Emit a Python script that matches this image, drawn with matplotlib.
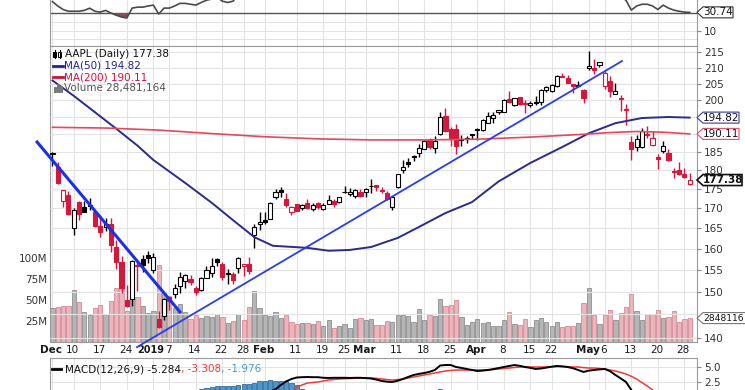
import numpy as np
import matplotlib
matplotlib.use('Agg')
import matplotlib.pyplot as plt
from matplotlib.patches import Polygon, Rectangle
from matplotlib.lines import Line2D
from matplotlib.transforms import IdentityTransform, blended_transform_factory
from matplotlib.ticker import NullLocator

plt.rcParams['font.family'] = ['DejaVu Sans']

# trading days on the chart, Dec 3 2018 .. May 29 2019
months = ['Dec', 'Jan', 'Feb', 'Mar', 'Apr', 'May']
month_days = [
    [3, 4, 6, 7, 10, 11, 12, 13, 14, 17, 18, 19, 20, 21, 24, 26, 27, 28, 31],
    [2, 3, 4, 7, 8, 9, 10, 11, 14, 15, 16, 17, 18, 22, 23, 24, 25, 28, 29, 30, 31],
    [1, 4, 5, 6, 7, 8, 11, 12, 13, 14, 15, 19, 20, 21, 22, 25, 26, 27, 28],
    [1, 4, 5, 6, 7, 8, 11, 12, 13, 14, 15, 18, 19, 20, 21, 22, 25, 26, 27, 28, 29],
    [1, 2, 3, 4, 5, 8, 9, 10, 11, 12, 15, 16, 17, 18, 22, 23, 24, 25, 26, 29, 30],
    [1, 2, 3, 6, 7, 8, 9, 10, 13, 14, 15, 16, 17, 20, 21, 22, 23, 24, 28, 29],
]
dates = [(m, d) for m, days in zip(months, month_days) for d in days]

prev_close = 178.58
opens = [184.46,180.95,171.76,173.49,165.00,171.66,170.40,170.49,169.00,165.45,165.38,166.00,160.40,156.86,148.15,148.30,155.84,157.50,158.53,
         154.89,143.98,144.53,148.70,149.56,151.29,152.50,152.88,150.85,150.27,153.08,154.20,157.50,156.41,154.15,154.11,155.48,155.79,156.25,163.25,166.11,
         166.96,167.41,172.86,174.65,172.40,168.99,171.05,170.10,171.39,169.71,171.25,169.71,171.19,171.80,171.58,174.16,173.71,173.21,174.32,
         174.28,175.69,175.94,174.67,173.87,170.32,175.49,180.00,182.25,183.90,184.85,185.80,188.35,186.23,190.02,195.34,191.51,191.66,188.75,188.95,189.83,
         191.64,191.09,193.25,194.79,196.45,196.42,200.32,198.68,200.85,199.20,198.58,199.46,199.54,203.12,202.83,204.43,207.36,206.83,204.90,204.40,203.06,
         209.88,209.84,210.89,204.29,205.88,201.90,200.40,197.42,187.71,186.41,186.27,189.91,186.93,183.52,185.22,184.66,179.80,180.20,178.92,176.42]
highs = [184.94,182.39,174.78,174.49,170.09,171.79,171.92,172.57,169.08,168.35,167.53,167.45,162.11,158.16,151.55,157.23,156.77,158.52,159.36,
         158.85,145.72,148.55,148.83,151.82,154.53,153.97,153.70,151.27,153.39,155.88,157.66,157.88,156.73,155.14,154.48,158.13,156.33,158.13,166.15,169.00,
         168.98,171.66,175.08,175.57,173.94,170.66,171.21,171.00,172.48,171.26,171.70,171.44,173.32,172.37,173.00,175.87,175.30,175.00,174.91,
         175.15,177.75,176.00,175.49,174.44,173.07,179.12,182.67,183.30,184.10,187.33,188.39,188.99,189.49,196.33,197.69,191.98,192.88,189.76,189.56,190.08,
         191.68,194.46,196.50,196.37,197.10,200.23,202.85,200.74,201.00,200.14,199.85,201.37,203.38,204.15,204.94,207.75,208.48,207.76,205.00,205.97,203.40,
         215.31,212.65,211.84,208.84,207.42,205.34,201.68,198.85,189.48,189.70,191.75,192.47,190.90,184.35,188.00,185.71,180.54,182.14,180.59,179.35]
lows = [181.21,176.27,170.42,168.30,163.33,167.00,169.02,169.55,165.28,162.73,164.39,159.09,155.30,149.63,146.59,146.72,150.07,154.55,156.48,
        154.23,142.00,143.80,145.90,148.52,149.63,150.86,151.51,149.22,150.05,153.00,153.26,155.98,152.62,151.70,151.74,154.32,153.66,154.11,160.23,164.56,
        165.93,167.28,172.35,172.85,170.34,168.42,169.25,169.70,169.92,169.38,169.75,169.49,170.99,170.30,171.38,173.95,173.17,172.73,172.92,
        172.89,173.97,174.54,173.94,172.02,169.50,175.35,179.37,180.92,182.56,183.74,185.79,185.92,184.73,189.81,190.78,186.60,184.58,186.55,187.53,188.54,
        188.38,191.05,193.15,193.14,195.93,196.34,199.23,198.18,198.44,196.21,198.01,198.56,198.61,202.52,202.34,203.90,207.05,205.12,202.12,203.86,199.11,
        209.23,208.13,210.23,203.50,200.83,201.75,196.66,192.77,182.85,185.41,186.02,188.84,186.76,180.28,184.70,182.55,177.81,178.62,177.91,176.00]
closes = [184.82,176.69,174.72,168.49,169.60,168.63,169.10,170.95,165.48,163.94,166.07,160.89,156.83,150.73,146.83,157.17,156.15,156.23,157.74,
          157.92,142.19,148.26,147.93,150.75,153.31,153.80,152.29,150.00,153.07,154.94,155.86,156.82,153.30,153.92,152.70,157.76,156.30,154.68,165.25,166.44,
          166.52,171.25,174.18,174.24,170.94,170.41,169.43,170.89,170.18,170.80,170.42,170.93,172.03,171.06,172.97,174.23,174.33,174.87,173.15,
          174.97,175.85,175.53,174.52,172.50,172.91,178.90,180.91,181.71,183.73,186.12,188.02,186.53,188.16,195.09,191.05,188.74,186.79,188.47,188.72,189.95,
          191.24,194.02,195.35,195.69,197.00,200.10,199.50,200.62,198.95,198.87,199.23,199.25,203.13,203.86,204.53,207.48,207.16,205.28,204.30,204.61,200.67,
          210.52,209.15,211.75,208.48,202.86,202.90,200.72,197.18,185.72,188.66,190.92,190.08,189.00,183.09,186.60,182.78,179.66,178.97,178.23,177.38]
volume_m = [40.8,41.3,43.1,42.3,62.0,47.3,35.6,31.9,40.7,44.3,33.8,49.0,64.8,95.7,37.2,58.6,53.1,42.3,35.0,
            37.0,91.3,58.6,54.8,41.0,45.1,35.8,27.0,32.4,28.7,30.6,29.8,33.1,29.9,23.1,25.4,33.5,26.2,41.6,61.1,40.7,
            32.7,31.5,36.1,28.2,31.7,23.8,20.9,22.3,22.5,21.8,24.6,18.9,26.1,17.2,18.9,21.9,17.1,27.8,28.2,
            25.9,27.4,19.7,20.8,24.8,23.9,32.0,32.5,31.0,23.6,39.0,26.2,31.6,31.0,51.0,42.4,43.8,49.8,29.8,20.8,23.6,
            27.9,22.8,23.3,19.1,18.5,25.9,35.8,21.7,20.6,27.2,17.6,25.7,28.9,24.2,19.4,23.3,17.5,18.5,18.6,22.2,46.5,
            64.8,31.9,20.9,32.4,38.0,26.3,34.9,41.2,57.4,36.5,26.5,33.0,32.9,38.6,28.4,29.7,36.5,23.7,27.9,28.481164]

# moving averages (day index, value)
ma50_idx = [0, 4, 8, 12, 16, 19, 25, 30, 34, 38, 41.5, 48, 52, 56, 60, 65, 69, 74, 79, 84, 90, 96, 101, 106, 111, 116, 120]
ma50_val = [206.0, 201.3, 196.4, 191.6, 186.8, 182.8, 176.6, 171.4, 167.0, 162.8, 160.7, 160.2, 159.5, 159.7, 160.4,
            162.6, 165.3, 168.8, 171.6, 177.0, 182.0, 186.4, 190.3, 193.2, 194.7, 195.0, 194.82]
ma200_idx = [0, 10, 20, 30, 40, 50, 60, 70, 80, 90, 100, 105, 110, 115, 120]
ma200_val = [192.0, 191.8, 191.2, 190.2, 189.3, 188.7, 188.4, 188.4, 188.6, 189.2, 190.0, 190.5, 190.8, 190.6, 190.11]

# hand drawn trend lines (day index, price)
down_idx, down_val = [-2.9, 24.0], [187.8, 145.5]
up_idx, up_val = [15.9, 107.25], [138.0, 212.1]

rsi = [43, 38, 34, 32, 32, 32, 33, 35.5, 32, 31,
       33, 30, 27.5, 25.4, 24.3, 35.6, 36.7, 36.7, 38, 39,
       28.8, 35.6, 35.6, 38, 41, 41, 40, 39, 42, 44.6,
       46, 48, 43.5, 42, 43.5, 51, 49, 47, 60, 61,
       61, 64, 67, 67, 60, 59, 58, 60, 59, 60,
       59, 60, 62, 60, 63, 65, 65, 66, 62, 64,
       65, 64, 62, 58, 59, 67, 70, 71, 73, 76,
       78, 73, 75, 82, 68, 62, 58, 61, 61, 63,
       65, 69, 71, 71, 73, 77, 74, 76, 70, 70,
       71, 71, 76, 77, 78, 81, 80, 73, 69, 70,
       58, 70, 68, 70, 61, 51, 50, 48, 44.6, 33.3,
       38, 40, 40, 38, 34, 39, 35.6, 33.3, 32, 31,
       30.74]

macd = [-7.6, -8.2, -8.3, -8.4, -8.3, -8.2, -8.0, -7.8, -8.0, -7.8,
        -7.9, -8.1, -8.4, -8.8, -9.4, -9.1, -9.0, -8.8, -8.5, -8.2,
        -8.4, -8.2, -8.1, -7.8, -7.4, -7.1, -6.8, -6.5, -6.1, -5.6,
        -5.1, -4.7, -4.3, -3.8, -3.4, -2.9, -2.4, -1.8, -1.2, -0.4,
        0.2, 0.9, 1.3, 2.0, 2.6, 3.0, 3.25, 3.3, 3.33, 3.3,
        3.3, 3.2, 3.17, 3.2, 3.2, 3.2, 3.17, 3.2, 3.2, 3.15,
        3.08, 2.9, 2.67, 2.55, 2.5, 2.7, 3.0, 3.35, 3.67, 3.85,
        4.0, 4.2, 4.5, 5.25, 5.33, 5.33, 5.0, 4.85, 4.67, 4.5,
        4.33, 4.4, 4.5, 4.65, 4.83, 5.0, 5.17, 5.33, 5.2, 5.0,
        4.85, 4.67, 4.75, 4.9, 5.05, 5.17, 5.1, 5.0, 4.8, 4.5,
        4.17, 4.4, 4.5, 4.6, 4.67, 4.3, 3.67, 3.1, 2.5, 1.17,
        -0.2, -1.0, -1.7, -2.3, -3.1, -3.5, -4.0, -4.5, -4.9, -5.1,
        -5.284]
signal = [-7.0, -7.2, -7.4, -7.6, -7.8, -7.9, -7.9, -8.0, -7.9, -7.9,
          -7.9, -7.9, -8.0, -8.0, -8.2, -8.4, -8.6, -8.7, -8.7, -8.6,
          -8.5, -8.5, -8.45, -8.4, -8.25, -8.1, -7.9, -7.7, -7.4, -7.1,
          -6.75, -6.4, -6.05, -5.7, -5.3, -4.9, -4.5, -4.0, -3.6, -3.0,
          -2.5, -1.9, -1.4, -0.7, 0.0, 0.9, 1.6, 2.0, 2.33, 2.42,
          2.5, 2.67, 2.83, 2.92, 3.0, 3.05, 3.08, 3.12, 3.17, 3.17,
          3.17, 3.1, 3.0, 2.9, 2.83, 2.9, 3.0, 3.17, 3.33, 3.5,
          3.67, 3.83, 4.0, 4.17, 4.33, 4.42, 4.5, 4.5, 4.5, 4.5,
          4.5, 4.5, 4.5, 4.58, 4.67, 4.75, 4.83, 4.92, 5.0, 5.0,
          5.0, 5.0, 5.0, 5.0, 5.05, 5.08, 5.08, 5.05, 5.0, 5.0,
          4.9, 4.83, 4.83, 4.75, 4.67, 4.5, 4.33, 4.1, 3.83, 3.45,
          3.0, 2.4, 1.83, 1.17, 0.3, -0.4, -1.1, -1.8, -2.4, -2.9,
          -3.308]
hist = [-0.6, -1.0, -0.9, -0.8, -0.5, -0.3, -0.1, 0.2, -0.1, 0.1,
        0.0, -0.2, -0.4, -0.8, -1.2, -0.7, -0.4, -0.1, 0.2, 0.45,
        0.1, 0.3, 0.35, 0.6, 0.85, 1.0, 1.1, 1.2, 1.33, 1.5,
        1.65, 1.75, 1.8, 1.85, 1.9, 2.0, 2.1, 2.2, 2.4, 2.6,
        2.7, 2.8, 2.7, 2.7, 2.6, 2.3, 1.95, 1.4, 1.0, 0.88,
        0.8, 0.53, 0.34, 0.28, 0.2, 0.15, 0.09, 0.08, 0.03, -0.02,
        -0.09, -0.2, -0.33, -0.35, -0.33, -0.2, 0.0, 0.18, 0.34, 0.35,
        0.33, 0.37, 0.5, 1.25, 1.1, 0.91, 0.5, 0.35, 0.17, 0.0,
        -0.17, -0.1, 0.0, 0.07, 0.16, 0.25, 0.34, 0.41, 0.2, 0.0,
        -0.15, -0.33, -0.25, -0.1, 0.0, 0.09, 0.02, -0.05, -0.2, -0.5,
        -0.73, -0.43, -0.33, -0.15, 0.0, -0.2, -0.66, -1.0, -1.33, -2.28,
        -3.2, -3.4, -3.53, -3.47, -3.4, -3.1, -2.9, -2.7, -2.5, -2.2,
        -1.976]

tick_dates = [('Dec', 3), ('Dec', 10), ('Dec', 17), ('Dec', 24), ('Jan', 2), ('Jan', 7), ('Jan', 14), ('Jan', 22),
              ('Jan', 28), ('Feb', 1), ('Feb', 11), ('Feb', 19), ('Feb', 25), ('Mar', 1), ('Mar', 11), ('Mar', 18),
              ('Mar', 25), ('Apr', 1), ('Apr', 8), ('Apr', 15), ('Apr', 22), ('May', 1), ('May', 6), ('May', 13),
              ('May', 20), ('May', 28)]
tick_text = ['Dec', '10', '17', '24', '2019', '7', '14', '22', '28', 'Feb', '11', '19', '25', 'Mar', '11', '18',
             '25', 'Apr', '8', '15', '22', 'May', '6', '13', '20', '28']
price_grid = [140, 145, 150, 155, 160, 165, 170, 175, 180, 185, 190, 195, 200, 205, 210, 215]
price_labels = [140, 150, 155, 160, 165, 170, 175, 180, 185, 200, 205, 210, 215]

n = len(closes)
x = np.arange(n)
o = np.array(opens); c = np.array(closes); h = np.array(highs); l = np.array(lows)
prev = np.r_[prev_close, c[:-1]]
tick_idx = [dates.index(t) for t in tick_dates]

W, H = 745, 390
RED = '#d3183e'
GRID = '#e3e3e3'
SPINE = '#9a9a9a'
FS = 7.5
XL = (-0.47, 121.37)

fig = plt.figure(figsize=(W / 100, H / 100), dpi=100)
fig.patch.set_facecolor('white')


def rect(x0, y0, x1, y1):
    return [x0 / W, 1 - y1 / H, (x1 - x0) / W, (y1 - y0) / H]


def style(a):
    a.set_xlim(*XL)
    a.tick_params(axis='x', length=0, labelbottom=False)
    for s in a.spines.values():
        s.set_color(SPINE)
        s.set_linewidth(0.8)
    a.tick_params(axis='y', direction='out', length=3, width=0.8, color='#888',
                  pad=2, labelsize=FS, labelcolor='#333')


ax_rsi = fig.add_axes(rect(50, 0, 697, 46))
ax_v = fig.add_axes(rect(50, 46, 697, 342))
ax = ax_v.twinx()
ax_m = fig.add_axes(rect(50, 358, 697, 440))
for a in (ax_rsi, ax_v, ax, ax_m):
    style(a)
for s in ax.spines.values():
    s.set_visible(False)

# ---- RSI panel
ax_rsi.set_ylim(-7.71, 44.86)
ax_rsi.vlines(tick_idx, -10, 50, color=GRID, lw=0.8, zorder=0)
ax_rsi.hlines([0, 10, 20], *XL, color=GRID, lw=0.8, zorder=0)
ax_rsi.axhline(30, color='#555', lw=1.0, zorder=1)
r = np.array(rsi)
ax_rsi.fill_between(x, r, 30, where=r < 30, interpolate=True, color='#8e4b57', lw=0, zorder=2)
ax_rsi.plot(x, r, color='#4a4a4a', lw=1.2, zorder=3)
ax_rsi.yaxis.tick_right()
ax_rsi.set_yticks([10], labels=['10'])
ax_rsi.spines['top'].set_visible(False)

# ---- volume (bottom layer of price panel)
ax_v.set_ylim(0, 352.4)
ax_v.vlines(tick_idx, 0, 360, color=GRID, lw=0.8, zorder=0)
up = c >= prev
ax_v.bar(x, volume_m, width=0.8, color=np.where(up, '#b5b5b5', '#e9b6bd'),
         edgecolor=np.where(up, '#8f8f8f', '#d98893'), lw=0.6, zorder=2)
ax_v.set_yticks([25, 50, 75, 100], labels=['25M', '50M', '75M', '100M'])
ax_v.tick_params(axis='y', length=0, pad=2)

# ---- price candles
ax.set_yscale('log')
ax.set_ylim(139.07, 216.95)
ax.hlines(price_grid, *XL, color=GRID, lw=0.8, zorder=0)
col = np.where(c < prev, RED, 'black')
hollow = c >= o
ax.vlines(x, l, h, colors=col, lw=1.0, zorder=3)
body_lo = np.minimum(o, c)
body_hi = np.maximum(o, c)
ax.bar(x, body_hi - body_lo, bottom=body_lo, width=0.78,
       color=np.where(hollow, 'white', col), edgecolor=col, lw=0.8, zorder=4)
ax.plot(ma50_idx, ma50_val, color='#2b2b8c', lw=1.4, zorder=5)
ax.plot(ma200_idx, ma200_val, color='#e2485e', lw=1.2, zorder=5)
ax.plot(down_idx, down_val, color='#1d2fe8', lw=2.2, clip_on=False, zorder=6)
ax.plot(up_idx, up_val, color='#2a3cf0', lw=1.3, clip_on=False, zorder=6)
ax.set_yticks(price_labels, labels=[str(p) for p in price_labels])
ax.yaxis.set_minor_locator(NullLocator())
ax.set_xlim(*XL)

# ---- MACD panel
ax_m.set_ylim(-7.17, 6.5)
ax_m.vlines(tick_idx, -10, 10, color=GRID, lw=0.8, zorder=0)
ax_m.hlines([0, 2.5, 5.0], *XL, color=GRID, lw=0.8, zorder=0)
ax_m.bar(x, hist, width=0.8, color='#4f97c8', edgecolor='#2f6e9c', lw=0.6, zorder=2)
ax_m.plot(x, signal, color='#f03a3a', lw=1.1, zorder=3)
ax_m.plot(x, macd, color='black', lw=1.4, zorder=4)
ax_m.yaxis.tick_right()
ax_m.set_yticks([2.5, 5.0], labels=['2.5', '5.0'])

# ---- date labels (year label sits right-aligned against the next day label)
tr = blended_transform_factory(ax_v.transData, ax_v.transAxes)
for i, t in zip(tick_idx, tick_text):
    bold = not t.isdigit() or t == '2019'
    if t == '2019':
        ax_v.text(i + 2.0, -0.027, t, transform=tr, ha='right', va='center', fontsize=7,
                  fontweight='bold', color='#1a1a1a', clip_on=False)
        continue
    ax_v.text(i - 0.2, -0.027, t, transform=tr, ha='center', va='center', fontsize=FS,
              fontweight='bold' if bold else 'normal', color='#1a1a1a', clip_on=False)


# ---- legend texts
def ftxt(px, py, s, **kw):
    kw.setdefault('fontsize', FS)
    return fig.text(px / W, 1 - py / H, s, va='center', **kw)


def fline(x0, x1, py, color, lw=2.0):
    fig.add_artist(Line2D([x0 / W, x1 / W], [1 - py / H, 1 - py / H], color=color, lw=lw,
                          transform=fig.transFigure))


def fvline(px, y0, y1, color, lw=0.8):
    fig.add_artist(Line2D([px / W, px / W], [1 - y0 / H, 1 - y1 / H], color=color, lw=lw,
                          transform=fig.transFigure))


def fbox(x0, y0, w, hgt, fc, ec):
    fig.add_artist(Rectangle((x0 / W, 1 - (y0 + hgt) / H), w / W, hgt / H, facecolor=fc,
                             edgecolor=ec, lw=0.7, transform=fig.transFigure))


# candle icon
fvline(54.5, 50, 58, 'black')
fbox(53.2, 51.5, 2.6, 5, 'black', 'black')
fvline(59.5, 50, 58, 'black')
fbox(58.2, 52, 2.6, 4.5, 'white', 'black')
ftxt(65, 54, 'AAPL (Daily) 177.38', color='#111')
fline(53, 63, 65.5, '#23238e')
ftxt(64, 65.5, 'MA(50) 194.82', color='#23238e')
fline(53, 63, 77, '#d0103a')
ftxt(64, 77, 'MA(200) 190.11', color='#d0103a')
for bx, bh in zip([53.5, 56.5, 59.5], [5, 8, 6]):
    fbox(bx, 92 - bh, 2.2, bh, '#777', '#777')
ftxt(64, 88.5, 'Volume 28,481,164', color='#555')

fline(52, 61, 369, 'black')
renderer = fig.canvas.get_renderer()
xpos = 65
for s, cc in [('MACD(12,26,9) -5.284', '#111'), (', -3.308', '#f03a3a'), (', -1.976', '#4a9ad4')]:
    t = ftxt(xpos, 369, s, color=cc)
    xpos = t.get_window_extent(renderer).x1


# ---- value tags on the right edge
def tag(a, val, s, ec, x1, bold=False, lw=0.8, fs=FS):
    yd = a.transData.transform((0, val))[1]
    x0, hh = 697, 5.5
    pts = [(x0, yd), (x0 + 6, yd + hh), (x1, yd + hh), (x1, yd - hh), (x0 + 6, yd - hh)]
    fig.add_artist(Polygon(pts, closed=True, transform=IdentityTransform(), facecolor='white',
                           edgecolor=ec, lw=lw, zorder=5))
    fig.text((x0 + 6) / W, yd / H, s, va='center', ha='left', fontsize=fs, color='#111',
             fontweight='bold' if bold else 'normal', zorder=6)


tag(ax_rsi, rsi[-1], '30.74', '#333', 733)
tag(ax, ma50_val[-1], '194.82', '#3a3aa0', 739)
tag(ax, ma200_val[-1], '190.11', '#e05068', 739)
tag(ax, closes[-1], '177.38', '#111', 742, bold=True, lw=1.2)
tag(ax_v, volume_m[-1], '2848116', '#777', 746, fs=6.6)

fig.savefig('out.png', dpi=100)
